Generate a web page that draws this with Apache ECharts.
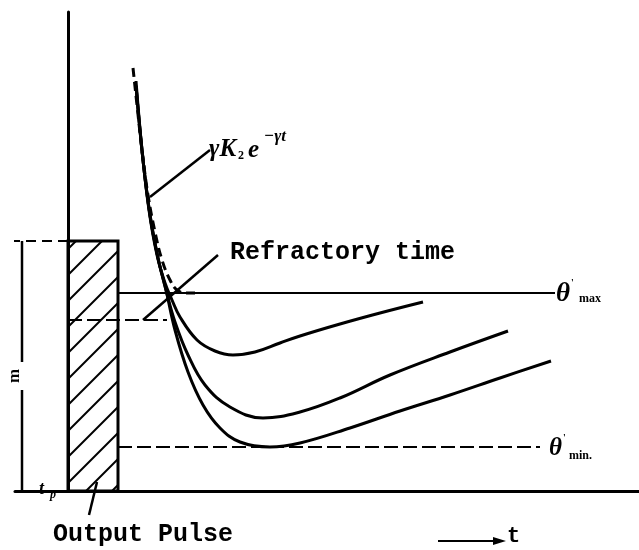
<!DOCTYPE html>
<html>
<head>
<meta charset="utf-8">
<script src="https://cdn.jsdelivr.net/npm/echarts@6/dist/echarts.min.js"></script>
<style>
  html, body { margin: 0; padding: 0; background: #fff; }
  #chart { width: 639px; height: 550px; }
</style>
</head>
<body>
<div id="chart"></div>
<script>
// diagram units: t to the right of the vertical axis, threshold upward from the time axis
const kDecay = [[65,423],[69,386],[74,341],[80,296],[87,259],[94,231],[102,211],[109,201],[118,198],[132,198]];
const curveHigh = [[68,410],[74,341],[81,281],[89,236],[97,208],[104,191],[112,174],[129,151],[147,140],[165,136],[187,139],[212,148],[232,155],[272,167],[312,178],[355,189]];
const curveMid = [[68,405],[75,331],[82,276],[90,233],[98,201],[107,169],[120,136],[137,106],[162,84],[195,73],[232,79],[272,93],[322,116],[382,139],[440,160]];
const curveLow = [[68,405],[75,331],[82,276],[90,233],[98,201],[107,161],[120,119],[135,86],[152,63],[172,49],[202,44],[232,48],[282,63],[332,80],[382,96],[432,113],[483,130]];

const thetaMax = 198;
const thetaMin = 44;
const refractoryLevel = 171;
const pulse = [0, 0, 50, 250];          // x0, y0, x1, y1
const dimX = -46;                        // the "m" dimension line

const thetaMaxLine = [[50, thetaMax], [487, thetaMax]];
const thetaMinLine = [[50, thetaMin], [472, thetaMin]];
const refractoryLine = [[0, refractoryLevel], [99, refractoryLevel]];
const refractoryLeader = [[75, refractoryLevel], [150, 236]];
const decayLeader = [[82, 294], [142, 341]];
const pulseLeader = [[21, -24], [29, 9]];
const dimTop = [[-58, pulse[3]], [0, pulse[3]]];
const dimUpper = [[dimX, pulse[3]], [dimX, 129]];
const dimLower = [[dimX, 101], [dimX, 0]];

const chart = echarts.init(document.getElementById('chart'));

function plain(data, width, dashed) {
  return {
    type: 'line',
    data: data,
    smooth: false,
    symbol: 'none',
    clip: false,
    silent: true,
    lineStyle: { color: '#000', width: width, type: dashed || 'solid' },
    z: 3
  };
}

function curve(data) {
  const s = plain(data, 3);
  s.smooth = 0.4;
  return s;
}

option = {
  backgroundColor: '#fff',
  animation: false,
  grid: { left: 15, right: 0, top: 12, bottom: 59 },
  xAxis: {
    type: 'value', min: -53, max: 571,
    axisLine: { onZero: true, lineStyle: { color: '#000', width: 3 } },
    axisTick: { show: false }, axisLabel: { show: false }, splitLine: { show: false }
  },
  yAxis: {
    type: 'value', min: 0, max: 479,
    axisLine: { show: true, onZero: true, lineStyle: { color: '#000', width: 3 } },
    axisTick: { show: false }, axisLabel: { show: false }, splitLine: { show: false }
  },
  series: [
    {
      type: 'custom',
      clip: false,
      silent: true,
      data: [pulse],
      encode: { x: [0, 2], y: [1, 3] },
      renderItem: function (params, api) {
        const p0 = api.coord([api.value(0), api.value(1)]);
        const p1 = api.coord([api.value(2), api.value(3)]);
        const L = p0[0], R = p1[0], T = p1[1], B = p0[1];
        const kids = [];
        const step = 26;
        for (let c = L + T + 8; c < R + B; c += step) {
          const xs = Math.max(L, c - B), xe = Math.min(R, c - T);
          if (xe > xs) {
            kids.push({
              type: 'line',
              shape: { x1: xs, y1: c - xs, x2: xe, y2: c - xe },
              style: { stroke: '#000', lineWidth: 2 }
            });
          }
        }
        kids.push({
          type: 'rect',
          shape: { x: L, y: T, width: R - L, height: B - T },
          style: { fill: 'none', stroke: '#000', lineWidth: 3 }
        });
        return { type: 'group', children: kids };
      },
      z: 2
    },
    plain(thetaMaxLine, 2),
    plain(thetaMinLine, 2, [14, 5]),
    plain(refractoryLine, 2, [14, 5]),
    plain(refractoryLeader, 2.5),
    plain(decayLeader, 2.5),
    plain(pulseLeader, 2.5),
    plain(dimTop, 2, [10, 6]),
    plain(dimUpper, 2.5),
    plain(dimLower, 2.5),
    (function () { const s = plain(kDecay, 3, [9, 5]); s.smooth = 0.4; return s; })(),
    curve(curveHigh),
    curve(curveMid),
    curve(curveLow)
  ],
  graphic: [
    { type: 'text', x: 230, y: 253, style: { text: 'Refractory time', font: 'bold 25px "Liberation Mono"', fill: '#000', textVerticalAlign: 'middle' } },
    { type: 'text', x: 53, y: 535, style: { text: 'Output Pulse', font: 'bold 25px "Liberation Mono"', fill: '#000', textVerticalAlign: 'middle' } },
    { type: 'text', x: 209, y: 150, style: { text: 'γK', font: 'italic bold 25px "Liberation Serif"', fill: '#000', textVerticalAlign: 'middle' } },
    { type: 'text', x: 238, y: 156, style: { text: '2', font: 'bold 12px "Liberation Serif"', fill: '#000', textVerticalAlign: 'middle' } },
    { type: 'text', x: 248, y: 151, style: { text: 'e', font: 'italic bold 25px "Liberation Serif"', fill: '#000', textVerticalAlign: 'middle' } },
    { type: 'text', x: 264, y: 137, style: { text: '−γt', font: 'italic bold 17px "Liberation Serif"', fill: '#000', textVerticalAlign: 'middle' } },
    { type: 'text', x: 556, y: 294, style: { text: 'θ', font: 'italic bold 27px "Liberation Serif"', fill: '#000', textVerticalAlign: 'middle' } },
    { type: 'text', x: 571, y: 283, style: { text: '\'', font: 'bold 10px "Liberation Serif"', fill: '#000', textVerticalAlign: 'middle' } },
    { type: 'text', x: 579, y: 299, style: { text: 'max', font: 'bold 12px "Liberation Serif"', fill: '#000', textVerticalAlign: 'middle' } },
    { type: 'text', x: 549, y: 449, style: { text: 'θ', font: 'italic bold 25px "Liberation Serif"', fill: '#000', textVerticalAlign: 'middle' } },
    { type: 'text', x: 563, y: 438, style: { text: '\'', font: 'bold 10px "Liberation Serif"', fill: '#000', textVerticalAlign: 'middle' } },
    { type: 'text', x: 569, y: 456, style: { text: 'min.', font: 'bold 12px "Liberation Serif"', fill: '#000', textVerticalAlign: 'middle' } },
    { type: 'text', x: 15, y: 376, rotation: Math.PI / 2, style: { text: 'm', font: 'bold 17px "Liberation Serif"', fill: '#000', textAlign: 'center', textVerticalAlign: 'middle' } },
    { type: 'text', x: 39, y: 489, style: { text: 't', font: 'italic bold 18px "Liberation Serif"', fill: '#000', textVerticalAlign: 'middle' } },
    { type: 'text', x: 50, y: 495, style: { text: 'p', font: 'italic bold 12px "Liberation Serif"', fill: '#000', textVerticalAlign: 'middle' } },
    { type: 'line', shape: { x1: 438, y1: 541, x2: 498, y2: 541 }, style: { stroke: '#000', lineWidth: 2 } },
    { type: 'polygon', shape: { points: [[493, 537], [506, 541], [493, 545]] }, style: { fill: '#000' } },
    { type: 'text', x: 507, y: 536, style: { text: 't', font: 'bold 22px "Liberation Mono"', fill: '#000', textVerticalAlign: 'middle' } }
  ]
};

chart.setOption(option);
</script>
</body>
</html>
